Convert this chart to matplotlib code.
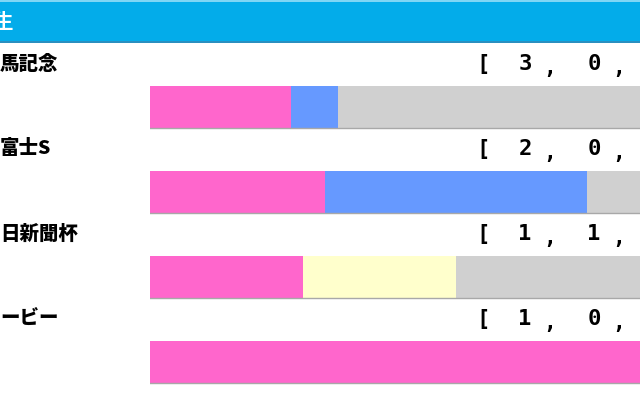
import matplotlib.pyplot as plt
import numpy as np
from matplotlib.patches import Rectangle
from matplotlib.transforms import blended_transform_factory

plt.rcParams['font.family'] = ['Noto Sans CJK JP', 'DejaVu Sans']

# visible part of the cropped table
header = '生'
races = ['馬記念', '富士S', '日新聞杯', 'ービー']
# [1着, 2着, 3着, 着外]
first = np.array([3, 2, 1, 1])
second = np.array([0, 0, 1, 0])
third = np.array([1, 3, 0, 0])
other = np.array([9, 2, 2, 0])

colors = ['#ff66cc', '#ffffcc', '#6699ff', '#d0d0d0']

W, H = 640, 400
fig = plt.figure(figsize=(6.4, 4.0), dpi=100)

# header band
fig.patches.append(Rectangle((0, 1 - 42 / H), 1, 42 / H, transform=fig.transFigure,
                             facecolor='#03acea', edgecolor='none', zorder=0))
fig.patches.append(Rectangle((0, 1 - 2 / H), 1, 2 / H, transform=fig.transFigure,
                             facecolor='#7fd6f5', edgecolor='none', zorder=1))
fig.patches.append(Rectangle((0, 1 - 43 / H), 1, 1.5 / H, transform=fig.transFigure,
                             facecolor='#2a8fc0', edgecolor='none', zorder=1))
fig.text(-7 / W, 1 - 22 / H, header, color='white', fontsize=14, fontweight='bold',
         ha='left', va='center')

# bars run past the right edge of the crop
ax = fig.add_axes([150 / W, 0, 612 / W, 1])
ax.set_xlim(0, 1)
ax.set_ylim(H / 85, 0)
ax.axis('off')

total = first + second + third + other
rows = np.arange(len(races)) + 107 / 85
left = np.zeros(len(races))
for vals, c in zip([first, second, third, other], colors):
    frac = vals / total
    ax.barh(rows, frac, left=left, height=42 / 85, color=c, edgecolor='none')
    left = left + frac
for r in rows:
    ax.plot([0, 1], [r + 21 / 85, r + 21 / 85], color='#a8a8a8', lw=1.0)

tr = blended_transform_factory(fig.transFigure, ax.transData)
label_y = np.arange(len(races)) + 64 / 85
for i, name in enumerate(races):
    ax.text(0, label_y[i], name, transform=tr, fontsize=14, fontweight='heavy',
            ha='left', va='center', color='black')
    counts = [first[i], second[i], third[i], other[i]]
    ax.text(483 / W, label_y[i], '[', transform=tr, fontsize=16,
            family='DejaVu Sans Mono', fontweight='bold', ha='center', va='center')
    for j, cnt in enumerate(counts):
        xd = 525 + 69 * j
        if xd > W - 30:
            continue  # cropped off in the reference
        ax.text(xd / W, label_y[i], str(cnt), transform=tr, fontsize=16,
                family='DejaVu Sans Mono', fontweight='bold', ha='center', va='center')
        ax.text((xd + 25) / W, label_y[i] + 4 / 85, ',', transform=tr, fontsize=15,
                family='DejaVu Sans Mono', fontweight='bold', ha='center', va='center')

fig.savefig('out.png', dpi=100)
plt.close()
